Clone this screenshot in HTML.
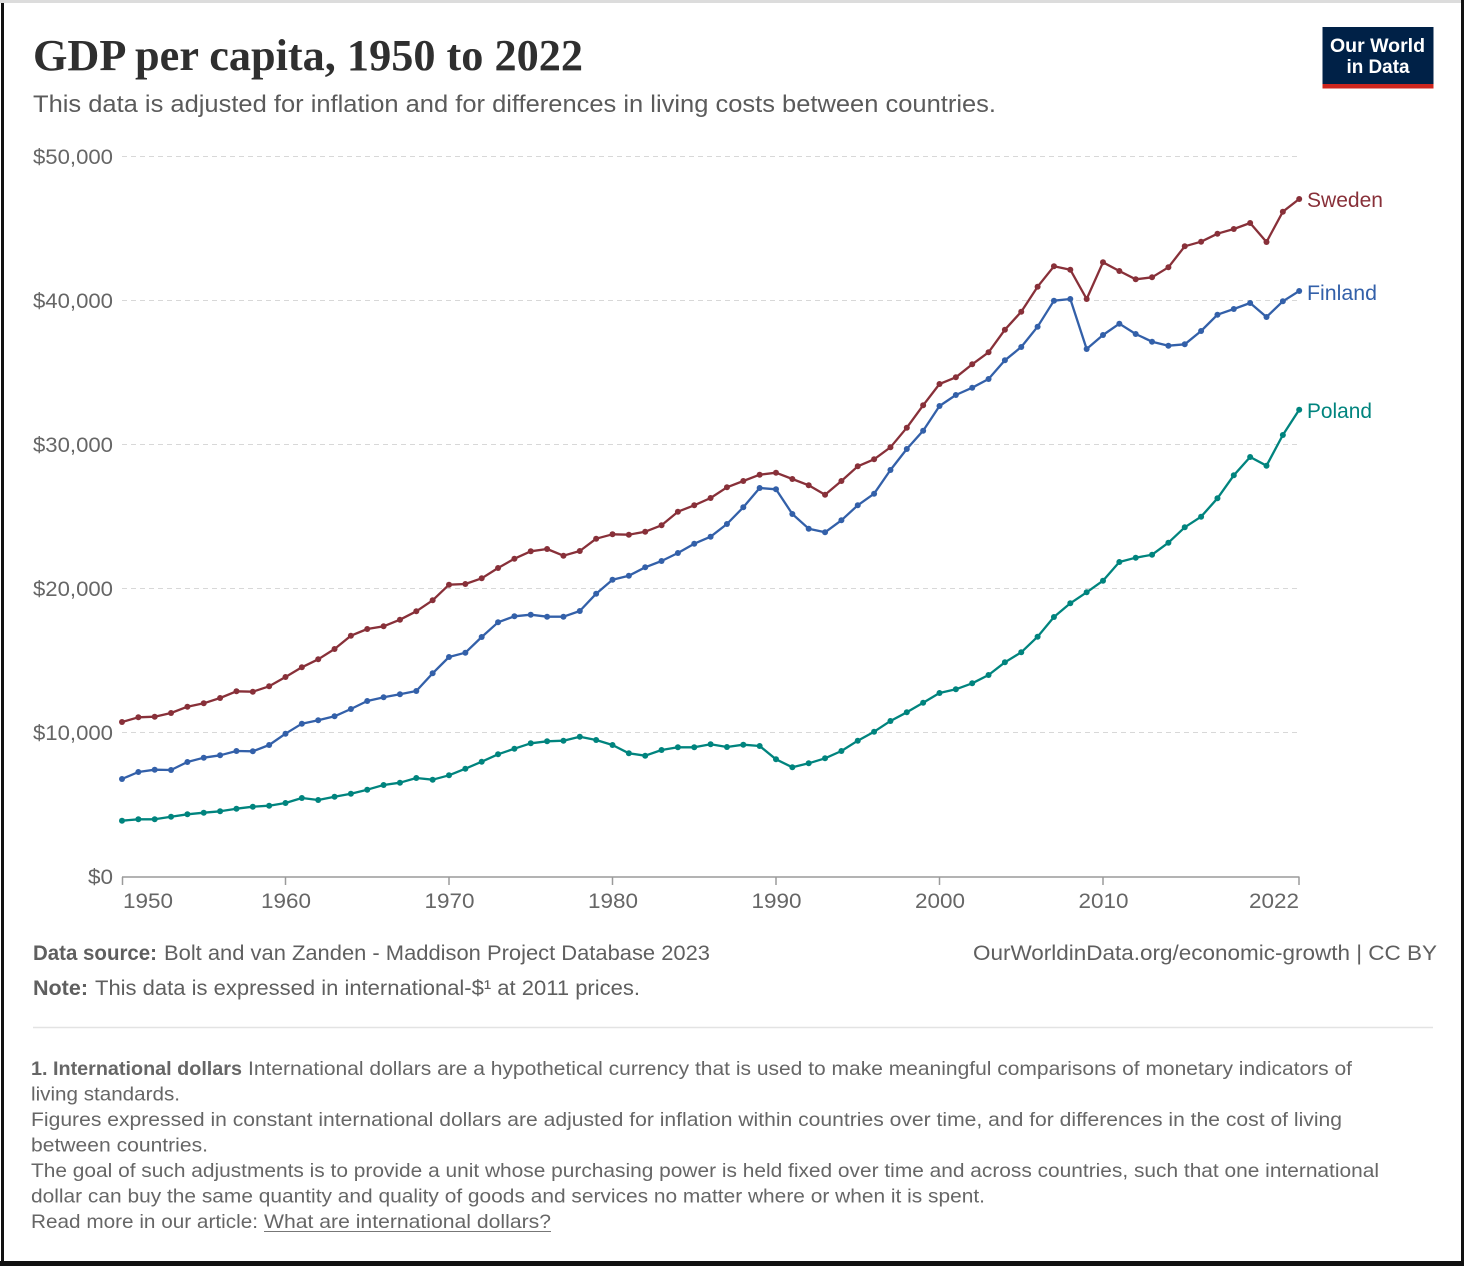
<!DOCTYPE html>
<html>
<head>
<meta charset="utf-8">
<style>
html,body{margin:0;padding:0;background:#fff;}
svg{display:block;}
text{font-family:"Liberation Sans",Arial,sans-serif;}
.ser{font-family:"Liberation Serif","Times New Roman",serif;}
</style>
</head>
<body>
<svg width="1464" height="1266" viewBox="0 0 1464 1266" xmlns="http://www.w3.org/2000/svg">
<defs>
<marker id="ms" viewBox="0 0 7 7" refX="3.5" refY="3.5" markerWidth="7" markerHeight="7" markerUnits="userSpaceOnUse"><circle cx="3.5" cy="3.5" r="3" fill="#883039"/></marker>
<marker id="mf" viewBox="0 0 7 7" refX="3.5" refY="3.5" markerWidth="7" markerHeight="7" markerUnits="userSpaceOnUse"><circle cx="3.5" cy="3.5" r="3" fill="#3360a9"/></marker>
<marker id="mp" viewBox="0 0 7 7" refX="3.5" refY="3.5" markerWidth="7" markerHeight="7" markerUnits="userSpaceOnUse"><circle cx="3.5" cy="3.5" r="3" fill="#00847e"/></marker>
</defs>
<rect x="0" y="0" width="1464" height="1266" fill="#fff"/>
<!-- frame -->
<rect x="0" y="0" width="1464" height="3" fill="#dcdcdc"/>
<rect x="1" y="3" width="3" height="1263" fill="#111"/>
<rect x="1461" y="0" width="3" height="1266" fill="#111"/>
<rect x="0" y="1261" width="1464" height="5" fill="#111"/>

<!-- title -->
<text class="ser" x="33" y="70" font-size="44" font-weight="bold" fill="#2f2f2f" textLength="550" lengthAdjust="spacingAndGlyphs">GDP per capita, 1950 to 2022</text>
<text x="33" y="112" font-size="24" fill="#5b5b5b" textLength="963" lengthAdjust="spacingAndGlyphs">This data is adjusted for inflation and for differences in living costs between countries.</text>

<!-- logo -->
<rect x="1322.5" y="27" width="111" height="58" fill="#002147"/>
<rect x="1322.5" y="84" width="111" height="4.5" fill="#ce261e"/>
<text x="1330" y="52" font-size="19.5" font-weight="bold" fill="#fff" textLength="95" lengthAdjust="spacingAndGlyphs">Our World</text>
<text x="1346.5" y="73" font-size="19.5" font-weight="bold" fill="#fff" textLength="63" lengthAdjust="spacingAndGlyphs">in Data</text>

<!-- gridlines -->
<g stroke="#d8d8d8" stroke-width="1" stroke-dasharray="5,4">
<line x1="122" y1="156.5" x2="1297" y2="156.5"/>
<line x1="122" y1="300.5" x2="1297" y2="300.5"/>
<line x1="122" y1="444.5" x2="1297" y2="444.5"/>
<line x1="122" y1="588.5" x2="1297" y2="588.5"/>
<line x1="122" y1="732.5" x2="1297" y2="732.5"/>
</g>
<!-- y labels -->
<g font-size="21" fill="#666" text-anchor="end">
<text x="113" y="164" textLength="80" lengthAdjust="spacingAndGlyphs">$50,000</text>
<text x="113" y="308" textLength="80" lengthAdjust="spacingAndGlyphs">$40,000</text>
<text x="113" y="452" textLength="80" lengthAdjust="spacingAndGlyphs">$30,000</text>
<text x="113" y="596" textLength="80" lengthAdjust="spacingAndGlyphs">$20,000</text>
<text x="113" y="740" textLength="80" lengthAdjust="spacingAndGlyphs">$10,000</text>
<text x="113" y="884" textLength="25" lengthAdjust="spacingAndGlyphs">$0</text>
</g>

<!-- x axis -->
<line x1="122" y1="877" x2="1299.5" y2="877" stroke="#9a9a9a" stroke-width="1.5"/>
<g stroke="#9a9a9a" stroke-width="1.5">
<line x1="122.5" y1="877" x2="122.5" y2="885"/>
<line x1="285.5" y1="877" x2="285.5" y2="885"/>
<line x1="449" y1="877" x2="449" y2="885"/>
<line x1="612.5" y1="877" x2="612.5" y2="885"/>
<line x1="776" y1="877" x2="776" y2="885"/>
<line x1="939.5" y1="877" x2="939.5" y2="885"/>
<line x1="1103" y1="877" x2="1103" y2="885"/>
<line x1="1299" y1="877" x2="1299" y2="885"/>
</g>
<g font-size="21.5" fill="#666">
<text x="123" y="908" textLength="50" lengthAdjust="spacingAndGlyphs">1950</text>
<text x="286" y="908" text-anchor="middle" textLength="50" lengthAdjust="spacingAndGlyphs">1960</text>
<text x="449.5" y="908" text-anchor="middle" textLength="50" lengthAdjust="spacingAndGlyphs">1970</text>
<text x="613" y="908" text-anchor="middle" textLength="50" lengthAdjust="spacingAndGlyphs">1980</text>
<text x="776.5" y="908" text-anchor="middle" textLength="50" lengthAdjust="spacingAndGlyphs">1990</text>
<text x="940" y="908" text-anchor="middle" textLength="50" lengthAdjust="spacingAndGlyphs">2000</text>
<text x="1103.5" y="908" text-anchor="middle" textLength="50" lengthAdjust="spacingAndGlyphs">2010</text>
<text x="1299" y="908" text-anchor="end" textLength="50" lengthAdjust="spacingAndGlyphs">2022</text>
</g>

<!-- series -->
<polyline fill="none" stroke="#883039" stroke-width="2.3" stroke-linejoin="round" marker-start="url(#ms)" marker-mid="url(#ms)" marker-end="url(#ms)" points="122,722 138.35,717.3 154.7,716.7 171.05,713 187.4,706.7 203.75,703.3 220.1,698 236.45,691.3 252.8,691.7 269.15,686.3 285.5,677 301.85,667.3 318.2,659.3 334.55,649 350.9,635.7 367.25,629 383.6,626.3 399.95,619.7 416.3,611.3 432.65,600.3 449,584.7 465.35,584 481.7,578.3 498.05,568 514.4,558.7 530.75,551.3 547.1,549 563.45,555.7 579.8,551 596.15,538.7 612.5,534.3 628.85,534.7 645.2,531.7 661.55,525.3 677.9,511.7 694.25,505.3 710.6,498 726.95,487.3 743.3,481 759.65,474.7 776,472.7 792.35,479 808.7,485.3 825.05,494.7 841.4,481 857.75,466.3 874.1,459.3 890.45,447.3 906.8,427.7 923.15,405.3 939.5,384 955.85,377.3 972.2,364.3 988.55,352.3 1004.9,329.7 1021.25,311.7 1037.6,286.7 1053.95,266.3 1070.3,269.7 1086.65,299 1103,262.3 1119.35,271 1135.7,279.3 1152.05,277.3 1168.4,267.3 1184.75,246.3 1201.1,241.7 1217.45,233.7 1233.8,229 1250.15,223 1266.5,242 1282.85,211.7 1299.2,199"/>
<polyline fill="none" stroke="#3360a9" stroke-width="2.3" stroke-linejoin="round" marker-start="url(#mf)" marker-mid="url(#mf)" marker-end="url(#mf)" points="122,779 138.35,772 154.7,769.7 171.05,770 187.4,762 203.75,757.7 220.1,755.3 236.45,751 252.8,751.3 269.15,745 285.5,733.7 301.85,723.7 318.2,720.3 334.55,716.3 350.9,709 367.25,701 383.6,697.3 399.95,694.3 416.3,691 432.65,673.3 449,657 465.35,652.7 481.7,637 498.05,622.3 514.4,616.3 530.75,614.7 547.1,616.7 563.45,616.7 579.8,611 596.15,593.7 612.5,579.7 628.85,575.7 645.2,567.3 661.55,561 677.9,553 694.25,543.7 710.6,536.7 726.95,524 743.3,507.3 759.65,488 776,489.3 792.35,514 808.7,528.7 825.05,532.3 841.4,520.3 857.75,505.3 874.1,493.7 890.45,470 906.8,449 923.15,430.7 939.5,406 955.85,395 972.2,387.7 988.55,379 1004.9,360.3 1021.25,347 1037.6,326.7 1053.95,300.7 1070.3,299 1086.65,349 1103,335 1119.35,323.7 1135.7,334 1152.05,341.7 1168.4,345.7 1184.75,344.3 1201.1,331 1217.45,314.7 1233.8,309 1250.15,303 1266.5,317 1282.85,301.3 1299.2,291"/>
<polyline fill="none" stroke="#00847e" stroke-width="2.3" stroke-linejoin="round" marker-start="url(#mp)" marker-mid="url(#mp)" marker-end="url(#mp)" points="122,820.7 138.35,819.3 154.7,819.3 171.05,816.7 187.4,814.3 203.75,812.7 220.1,811.3 236.45,808.7 252.8,806.7 269.15,805.7 285.5,803 301.85,798 318.2,800 334.55,796.7 350.9,793.7 367.25,789.7 383.6,785 399.95,782.7 416.3,778 432.65,779.7 449,775.3 465.35,768.7 481.7,761.7 498.05,754.3 514.4,748.7 530.75,743.3 547.1,741.3 563.45,740.7 579.8,736.7 596.15,740 612.5,745 628.85,753.3 645.2,755.7 661.55,750 677.9,747.3 694.25,747.3 710.6,744.3 726.95,747 743.3,744.7 759.65,746 776,759.3 792.35,767.3 808.7,763.3 825.05,758.3 841.4,751 857.75,740.7 874.1,731.7 890.45,721 906.8,712.3 923.15,702.7 939.5,693 955.85,689.3 972.2,683.3 988.55,675 1004.9,662.3 1021.25,652.3 1037.6,636.7 1053.95,617 1070.3,603.3 1086.65,592.3 1103,580.7 1119.35,562 1135.7,557.7 1152.05,554.7 1168.4,542.7 1184.75,527.3 1201.1,516.7 1217.45,498.3 1233.8,475.3 1250.15,457 1266.5,465.7 1282.85,435 1299.2,409.7"/>

<!-- series labels -->
<text x="1307" y="207" font-size="21.5" fill="#883039" textLength="76" lengthAdjust="spacingAndGlyphs">Sweden</text>
<text x="1307" y="300" font-size="21.5" fill="#3360a9" textLength="70" lengthAdjust="spacingAndGlyphs">Finland</text>
<text x="1307" y="418" font-size="21.5" fill="#00847e" textLength="65" lengthAdjust="spacingAndGlyphs">Poland</text>

<!-- footer -->
<g font-size="21" fill="#5f5f5f">
<text x="33" y="960" font-weight="bold" textLength="124" lengthAdjust="spacingAndGlyphs">Data source:</text>
<text x="164" y="960" textLength="546" lengthAdjust="spacingAndGlyphs">Bolt and van Zanden - Maddison Project Database 2023</text>
<text x="33" y="995" font-weight="bold" textLength="55" lengthAdjust="spacingAndGlyphs">Note:</text>
<text x="95" y="995" textLength="545" lengthAdjust="spacingAndGlyphs">This data is expressed in international-$¹ at 2011 prices.</text>
<text x="973" y="960" textLength="464" lengthAdjust="spacingAndGlyphs">OurWorldinData.org/economic-growth  | CC BY</text>
</g>
<line x1="33" y1="1027.5" x2="1433" y2="1027.5" stroke="#e3e3e3" stroke-width="1.5"/>

<g font-size="19.5" fill="#666">
<text x="31" y="1075" font-weight="bold" textLength="211" lengthAdjust="spacingAndGlyphs">1. International dollars</text>
<text x="248" y="1075" textLength="1104" lengthAdjust="spacingAndGlyphs">International dollars are a hypothetical currency that is used to make meaningful comparisons of monetary indicators of</text>
<text x="31" y="1100.5" textLength="149" lengthAdjust="spacingAndGlyphs">living standards.</text>
<text x="31" y="1126" textLength="1311" lengthAdjust="spacingAndGlyphs">Figures expressed in constant international dollars are adjusted for inflation within countries over time, and for differences in the cost of living</text>
<text x="31" y="1151.5" textLength="177" lengthAdjust="spacingAndGlyphs">between countries.</text>
<text x="31" y="1177" textLength="1348" lengthAdjust="spacingAndGlyphs">The goal of such adjustments is to provide a unit whose purchasing power is held fixed over time and across countries, such that one international</text>
<text x="31" y="1202.5" textLength="954" lengthAdjust="spacingAndGlyphs">dollar can buy the same quantity and quality of goods and services no matter where or when it is spent.</text>
<text x="31" y="1228" textLength="227" lengthAdjust="spacingAndGlyphs">Read more in our article:</text>
<text x="264" y="1228" textLength="287" lengthAdjust="spacingAndGlyphs">What are international dollars?</text>
</g>
<line x1="264" y1="1231.5" x2="551" y2="1231.5" stroke="#777" stroke-width="1"/>
</svg>
</body>
</html>
